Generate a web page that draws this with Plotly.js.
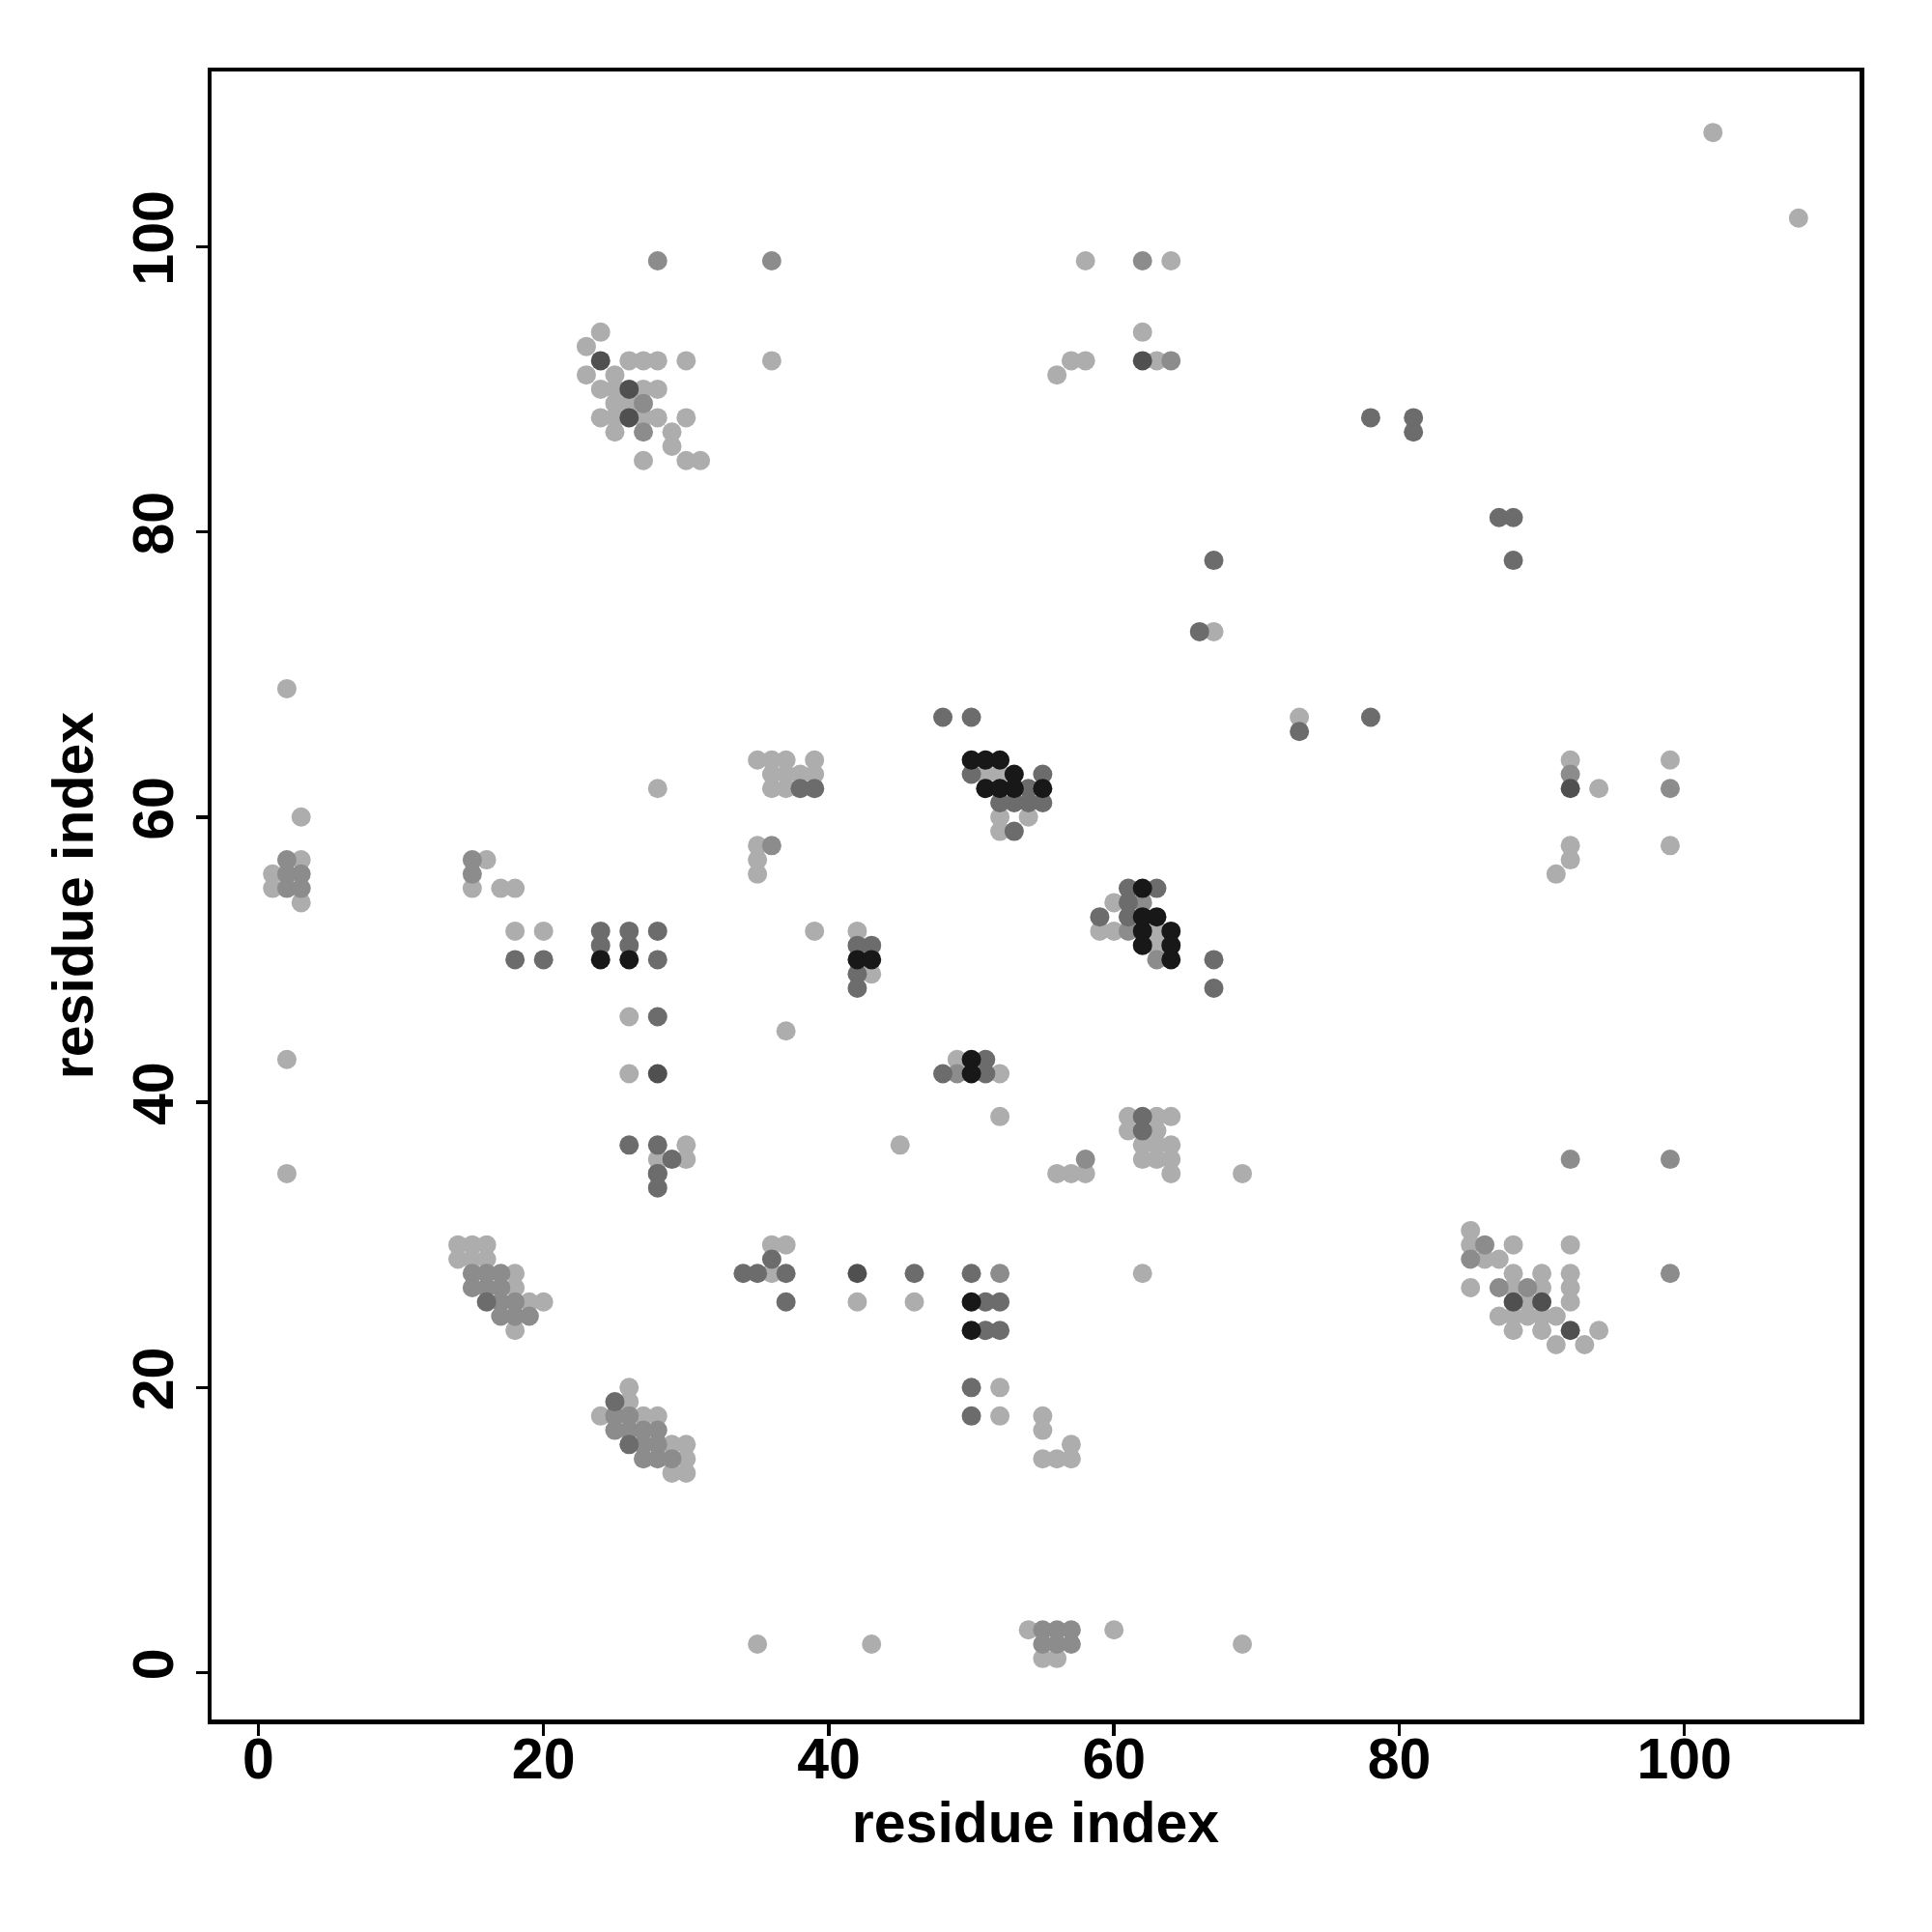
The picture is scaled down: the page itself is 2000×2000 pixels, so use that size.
<!DOCTYPE html>
<html>
<head>
<meta charset="utf-8">
<script src="https://cdn.plot.ly/plotly-3.0.1.min.js"></script>
<style>html,body{margin:0;padding:0;background:#fff;}#plot{width:2000px;height:2000px;}</style>
</head>
<body>
<div id="plot"></div>
<script>
// Contact points (residue i, residue j), grouped by shade level
const lightX = [24,23,26,27,28,30,23,25,24,25,27,28,25,26,24,25,27,28,30,25,29,29,27,30,31,36,
  56,57,58,58,64,62,63,67,73,102,108,
  92,94,99,99,91,92,92,
  2,3,3,1,1,3,2,2,16,15,17,18,18,20,
  26,26,30,28,30,28,
  35,36,37,39,36,37,38,39,51,52,36,37,38,39,52,54,52,35,35,35,
  39,42,43,37,49,52,52,45,
  60,59,60,63,63,
  61,63,64,61,63,62,63,64,62,63,64,64,56,57,58,69,62,
  14,15,16,14,15,16,18,18,19,20,18,
  26,26,24,27,28,29,30,30,29,30,
  36,37,36,42,46,52,52,55,55,55,56,57,57,
  85,85,88,92,86,87,88,90,92,85,88,90,92,89,92,87,88,89,90,91,88,90,94,91,93,
  54,60,69,55,56,35,43];
const lightY = [94,93,92,92,92,92,91,91,90,90,90,90,89,89,88,88,88,88,88,87,87,86,85,85,85,92,
  91,92,92,99,99,94,92,73,67,108,102,
  64,62,64,58,56,58,57,
  69,60,57,56,55,54,43,35,57,55,55,55,52,52,
  46,42,37,36,36,62,
  64,64,64,64,63,63,63,63,63,63,62,62,62,62,60,60,59,58,57,56,
  52,52,49,45,43,42,39,37,
  54,52,52,52,51,
  39,39,39,38,38,37,37,37,36,36,36,35,35,35,35,35,28,
  30,30,30,29,29,29,28,27,26,26,24,
  20,19,18,18,18,16,16,15,14,14,
  30,30,28,26,26,20,18,18,17,15,15,15,16,
  31,30,30,30,29,29,28,28,28,27,27,27,27,26,26,25,25,25,25,25,24,24,24,23,23,
  3,3,2,1,1,2,2];

const midX = [27,27,28,36,62,64,
  92,99,92,99,99,
  2,2,3,2,3,15,15,
  36,49,62,61,63,58,
  15,16,17,15,16,17,17,18,17,18,19,
  25,26,25,26,27,28,27,28,27,28,29,
  52,
  86,85,87,89,
  55,56,57,55,56,57];
const midY = [89,87,99,99,99,92,
  63,62,36,36,28,
  57,56,56,55,55,57,56,
  58,42,54,52,50,36,
  28,28,28,27,27,27,26,26,25,25,25,
  18,18,17,17,17,17,16,16,15,15,15,
  28,
  30,29,27,27,
  3,3,3,2,2,2];

const mdarkX = [78,81,81,87,88,88,67,66,73,78,
  18,20,24,24,26,26,28,28,28,26,28,28,29,28,28,
  48,50,50,55,38,39,54,52,53,54,55,53,
  42,43,42,42,51,48,51,
  61,63,61,59,61,67,67,62,62,
  16,25,26,
  36,34,35,37,46,50,37,51,52,51,52,50,50];
const mdarkY = [88,88,87,81,81,78,78,73,66,67,
  50,50,52,51,52,51,52,50,46,37,37,35,36,35,34,
  67,67,63,63,62,62,62,61,61,61,61,59,
  51,51,49,48,43,42,42,
  55,55,54,53,53,50,48,39,38,
  26,19,16,
  29,28,28,28,28,28,26,26,26,24,24,20,18];

const darkX = [24,26,26,62,92,28,42,88,90,92];
const darkY = [92,90,88,92,62,42,28,26,26,24];

const blackX = [24,26,50,51,52,53,51,52,53,55,42,43,50,50,62,62,63,62,64,62,64,64,50,50];
const blackY = [50,50,64,64,64,63,62,62,62,62,50,50,43,42,55,53,53,52,52,51,51,50,26,24];

const axisTicks = [0,20,40,60,80,100];
const axisTitle = 'residue index';

const levels = [
  {x: lightX, y: lightY, color: '#adadad'},
  {x: midX, y: midY, color: '#8c8c8c'},
  {x: mdarkX, y: mdarkY, color: '#6c6c6c'},
  {x: darkX, y: darkY, color: '#505050'},
  {x: blackX, y: blackY, color: '#181818'}
];

const traces = levels.map(l => ({
  type: 'scatter', mode: 'markers', x: l.x, y: l.y,
  marker: {color: l.color, size: 20, line: {width: 0}},
  hoverinfo: 'x+y', showlegend: false
}));

const fontBase = {family: 'Liberation Sans, Arial, sans-serif', size: 59, color: '#000', weight: 'bold'};

const axisCommon = {
  range: [-3.28, 112.28],
  tickvals: axisTicks,
  ticktext: axisTicks.map(String),
  ticks: 'outside', ticklen: 12, tickwidth: 3.5, tickcolor: '#000',
  showgrid: false, zeroline: false,
  showline: true, linecolor: '#000', linewidth: 4.5, mirror: true,
  tickfont: fontBase,
  automargin: false
};

const layout = {
  width: 2000, height: 2000,
  paper_bgcolor: '#fff', plot_bgcolor: '#fff',
  margin: {l: 219, r: 75, t: 74, b: 220},
  xaxis: Object.assign({}, axisCommon, {
    ticklabelstandoff: -26,
    title: {text: axisTitle, font: fontBase, standoff: 0}
  }),
  yaxis: Object.assign({}, axisCommon, {
    tickangle: -90,
    ticklabelstandoff: 0,
    title: {text: axisTitle, font: fontBase, standoff: 12}
  })
};

Plotly.newPlot('plot', traces, layout, {staticPlot: true});
</script>
</body>
</html>
